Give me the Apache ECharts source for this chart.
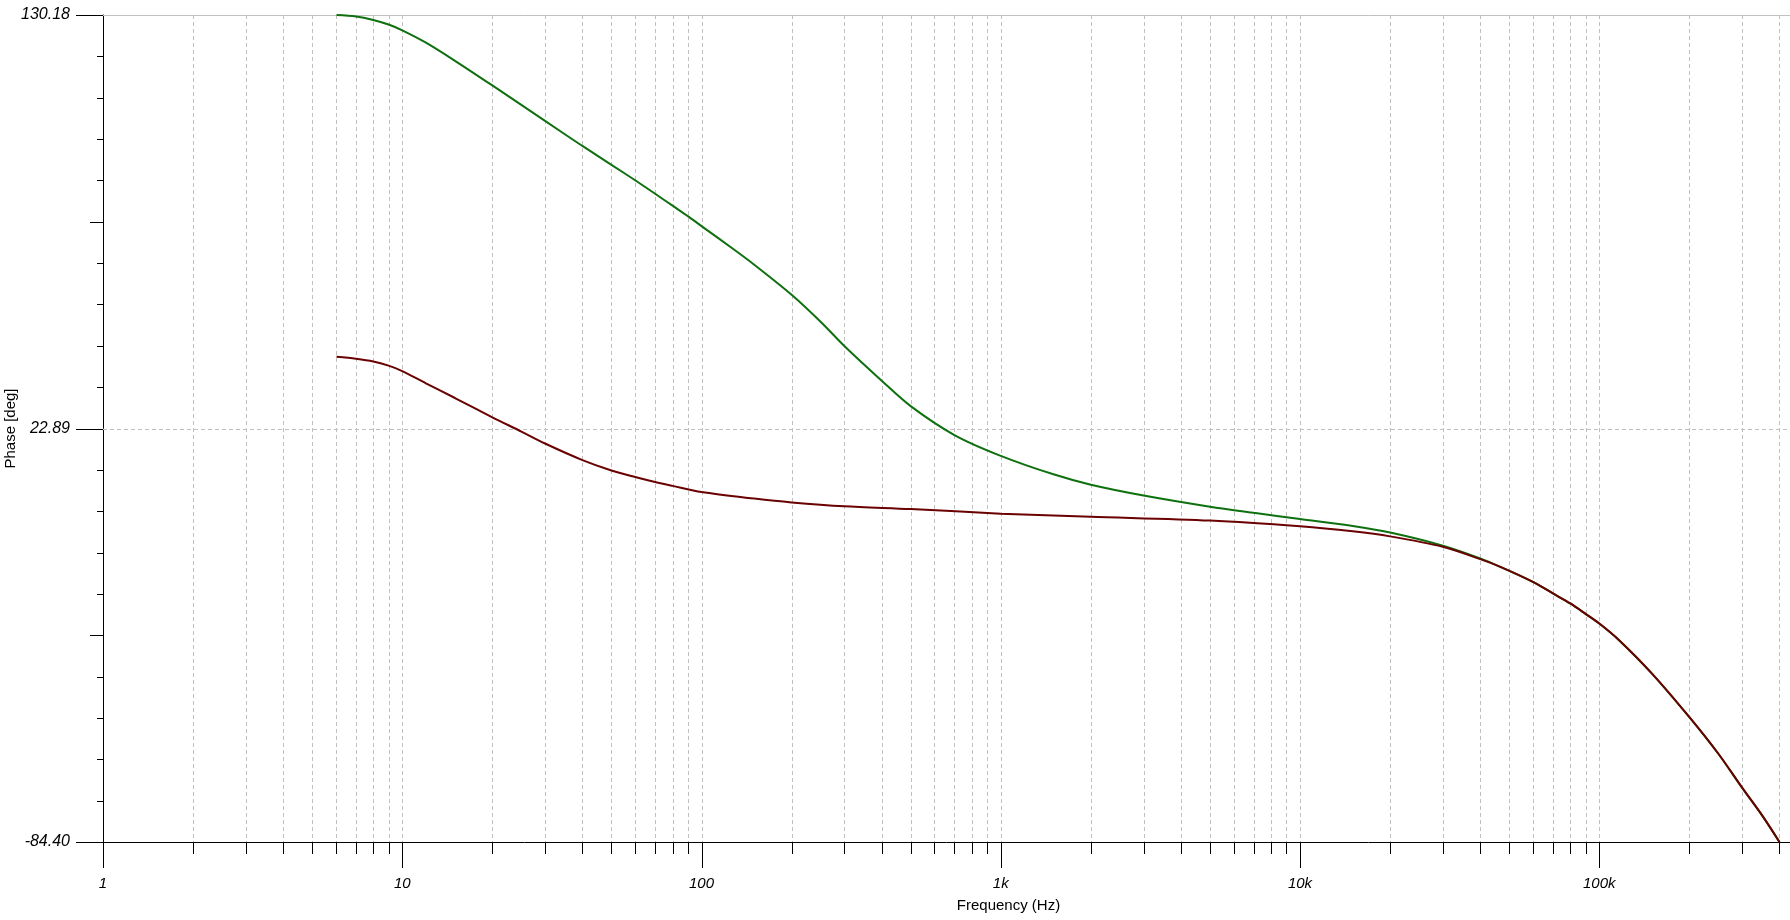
<!DOCTYPE html>
<html>
<head>
<meta charset="utf-8">
<script src="https://cdn.jsdelivr.net/npm/echarts@6/dist/echarts.min.js"></script>
<style>
html,body{margin:0;padding:0;background:#fff;}
#chart{width:1790px;height:920px;}
</style>
</head>
<body>
<div id="chart"></div>
<script>
// ---- data ----
const greenFreq = [6.03, 7, 8, 9, 10, 12, 15, 20, 30, 40, 50, 60, 70, 80, 90, 100, 128, 150, 200, 250, 300, 400, 500, 700, 1000, 1500, 2000, 3000, 5000, 7000, 10000, 15000, 20000, 30000, 40000, 46700, 60000, 70000, 80000, 90000, 100000, 116000, 150000, 200000, 250000, 300000, 350000, 400000];
const greenPhase = [130.18, 129.8, 128.9, 127.7, 126.2, 123.0, 118.3, 111.9, 102.7, 96.2, 91.3, 87.3, 83.8, 80.7, 78.0, 75.4, 69.4, 65.4, 57.6, 50.6, 44.3, 35.3, 28.7, 21.2, 15.8, 11.0, 8.3, 5.5, 2.6, 1.0, -0.6, -2.4, -4.1, -7.5, -10.8, -13.0, -16.9, -19.9, -22.5, -25.2, -27.7, -31.9, -40.7, -52.0, -61.5, -70.3, -77.5, -84.4];

const redFreq = [6.03, 7, 8, 9, 10, 12, 15, 20, 25, 30, 40, 50, 60, 70, 80, 100, 150, 200, 300, 500, 1000, 2000, 5000, 10000, 15000, 20000, 30000, 40000, 46700, 60000, 70000, 80000, 90000, 100000, 116000, 150000, 200000, 250000, 300000, 350000, 400000];
const redPhase = [41.5, 41.0, 40.3, 39.2, 37.8, 34.6, 30.8, 25.8, 22.1, 19.0, 14.7, 12.0, 10.3, 9.0, 8.0, 6.4, 4.7, 3.7, 2.7, 2.0, 0.8, 0.0, -1.0, -2.5, -3.8, -5.1, -7.8, -11.0, -13.0, -16.9, -19.9, -22.5, -25.2, -27.7, -31.9, -40.7, -52.0, -61.5, -70.3, -77.5, -84.4];

const yTickValues = [-84.40, 22.89, 130.18];
const xDecadeLabels = {0: '1', 1: '10', 2: '100', 3: '1k', 4: '10k', 5: '100k'};
const xMinorMultipliers = [1, 2, 3, 4, 5, 6, 7, 8, 9];
const xLastTick = 400000;

// ---- layout constants ----
const X_MIN = 1, X_MAX = 433800;
const Y_MIN = -84.40, Y_MAX = 130.18;

// x tick list (1,2..9,10,20.. up to 400k)
const xTicks = [];
for (let d = 0; d <= 5; d++) {
  for (const m of xMinorMultipliers) {
    const v = m * Math.pow(10, d);
    if (v <= xLastTick) xTicks.push([v, Y_MIN]);
  }
}
// y minor ticks (10 subdivisions between major ticks)
const yMinor = [];
for (let i = 0; i < yTickValues.length - 1; i++) {
  const a = yTickValues[i], b = yTickValues[i + 1];
  for (let k = 1; k < 10; k++) yMinor.push([X_MIN, a + (b - a) * k / 10, k === 5 ? 1 : 0]);
}
const yMajor = yTickValues.map(v => [X_MIN, v, 2]);

function isDecade(f) {
  const l = Math.log10(f);
  return Math.abs(l - Math.round(l)) < 1e-9;
}
const px = v => Math.round(v) + 0.5;

const chart = echarts.init(document.getElementById('chart'), null, {renderer: 'canvas'});
const FONT = 'Liberation Sans, Arial, sans-serif';

chart.setOption({
  animation: false,
  backgroundColor: '#ffffff',
  grid: {left: 103, top: 15, right: 0, bottom: 78, containLabel: false, outerBoundsMode: 'none'},
  xAxis: {
    type: 'log', logBase: 10, min: X_MIN, max: X_MAX,
    name: 'Frequency (Hz)', nameLocation: 'middle', nameGap: 56, nameMoveOverlap: false,
    nameTextStyle: {fontFamily: FONT, fontSize: 15, color: '#000', padding: [0, 0, 0, 124]},
    axisLine: {show: true, onZero: false, lineStyle: {color: '#000', width: 1}},
    axisTick: {show: false},
    splitLine: {show: false},
    minorTick: {show: false},
    axisLabel: {
      margin: 34, color: '#000', fontFamily: FONT, fontSize: 15, fontStyle: 'italic',
      showMinLabel: true, showMaxLabel: true,
      formatter: v => {
        const l = Math.log10(v);
        if (Math.abs(l - Math.round(l)) > 1e-6) return '';
        return xDecadeLabels[Math.round(l)] || '';
      }
    }
  },
  yAxis: {
    type: 'value', min: Y_MIN, max: Y_MAX,
    name: 'Phase [deg]', nameLocation: 'middle', nameGap: 85, nameMoveOverlap: false,
    nameTextStyle: {fontFamily: FONT, fontSize: 15, color: '#000'},
    axisLine: {show: true, onZero: false, lineStyle: {color: '#000', width: 1}},
    axisTick: {show: false},
    splitLine: {show: false},
    axisLabel: {
      customValues: yTickValues,
      margin: 33, color: '#000', fontFamily: FONT, fontSize: 16, fontStyle: 'italic',
      formatter: v => Number(v).toFixed(2)
    }
  },
  series: [
    {
      type: 'custom', name: 'xgrid', silent: true, z: 1, clip: false,
      data: xTicks,
      renderItem: (params, api) => {
        const f = api.value(0);
        const top = api.coord([f, Y_MAX]);
        const bot = api.coord([f, Y_MIN]);
        const x = px(bot[0]);
        const children = [];
        if (f > X_MIN) {
          children.push({type: 'line', shape: {x1: x, y1: top[1], x2: x, y2: bot[1]},
            style: {stroke: '#c0c0c0', lineWidth: 1, lineDash: [4, 3]}});
        }
        children.push({type: 'line', shape: {x1: x, y1: Math.round(bot[1]), x2: x, y2: Math.round(bot[1]) + (isDecade(f) ? 26 : 12)},
          style: {stroke: '#000', lineWidth: 1}});
        return {type: 'group', children};
      }
    },
    {
      type: 'custom', name: 'hgrid', silent: true, z: 1, clip: false,
      data: [[X_MIN, Y_MAX, 0], [X_MIN, 22.89, 1]],
      renderItem: (params, api) => {
        const l = api.coord([X_MIN, api.value(1)]);
        const r = api.coord([X_MAX, api.value(1)]);
        const y = px(l[1]);
        return {type: 'line', shape: {x1: l[0], y1: y, x2: r[0], y2: y},
          style: {stroke: '#c0c0c0', lineWidth: 1, lineDash: api.value(2) ? [4, 3] : null}};
      }
    },
    {
      type: 'custom', name: 'yticks', silent: true, z: 3, clip: false,
      data: yMinor.concat(yMajor),
      renderItem: (params, api) => {
        const p = api.coord([X_MIN, api.value(1)]);
        const kind = api.value(2);
        const len = kind === 2 ? 27 : (kind === 1 ? 13 : 6);
        const y = px(p[1]);
        return {type: 'line', shape: {x1: Math.round(p[0]) - len, y1: y, x2: Math.round(p[0]), y2: y},
          style: {stroke: '#000', lineWidth: 1}};
      }
    },
    {
      type: 'line', name: 'green', z: 5, showSymbol: false, smooth: 0.3,
      data: greenFreq.map((f, i) => [f, greenPhase[i]]),
      lineStyle: {color: '#0e700e', width: 2},
      itemStyle: {color: '#0e700e'}
    },
    {
      type: 'line', name: 'red', z: 6, showSymbol: false, smooth: 0.3,
      data: redFreq.map((f, i) => [f, redPhase[i]]),
      lineStyle: {color: '#6a0000', width: 2},
      itemStyle: {color: '#6a0000'}
    }
  ]
});
</script>
</body>
</html>
